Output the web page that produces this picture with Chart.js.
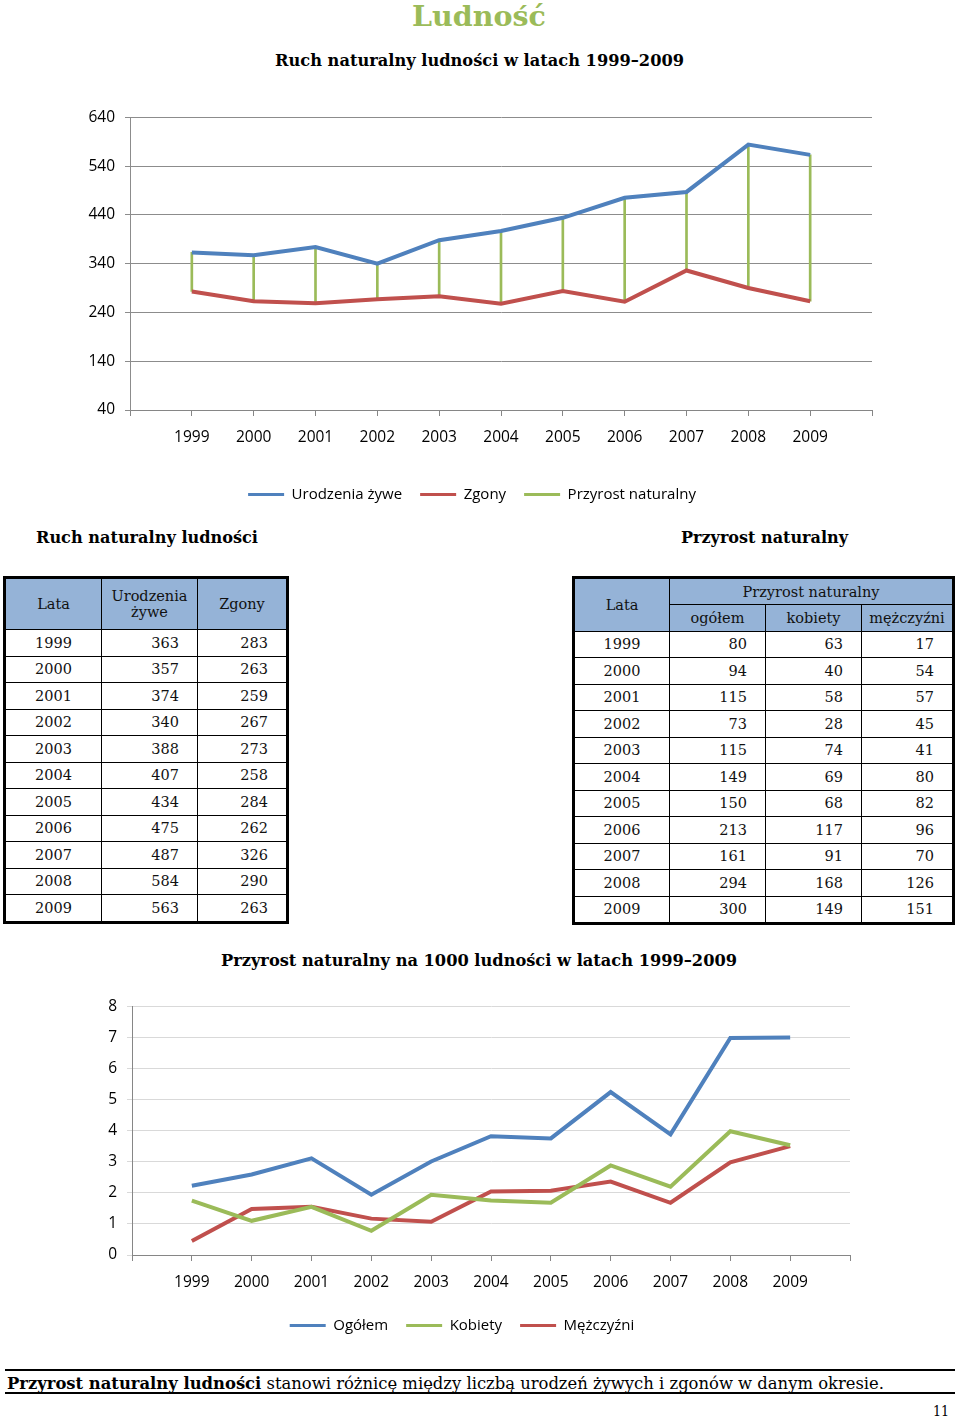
<!DOCTYPE html>
<html>
<head>
<meta charset="utf-8">
<script src="https://cdn.jsdelivr.net/npm/chart.js@4.4.0/dist/chart.umd.min.js"></script>
<style>
body{margin:0;width:960px;height:1418px;position:relative;background:#fff;font-family:"DejaVu Serif",serif;color:#000;overflow:hidden}
.t{position:absolute;white-space:nowrap;font-weight:bold;transform-origin:left top;line-height:1}
.box{position:absolute}
table{border-collapse:collapse;position:absolute;font-family:"DejaVu Serif",serif;font-size:14.5px;color:#111}
td,th{border:1px solid #000;padding:0;height:25.5px;font-weight:normal}
th{background:#95b3d7;text-align:center}
td.y{text-align:center}
td.n{text-align:right;padding-right:18px}
.rule{position:absolute;left:5px;width:950px;height:2px;background:#000}
</style>
</head>
<body>

<div class="t" id="tytul" style="color:#9bbb59;font-size:27px;top:3px;left:412px">Ludność</div>
<div class="t" id="tyt1" style="font-size:16px;top:53px;left:275px">Ruch naturalny ludności w latach 1999–2009</div>

<div class="box" style="left:60px;top:98px;width:824px;height:414px"><canvas id="wykres1"></canvas></div>

<div class="t" id="tyt2" style="font-size:16px;top:530px;left:36px">Ruch naturalny ludności</div>
<div class="t" id="tyt3" style="font-size:16px;top:530px;left:681px">Przyrost naturalny</div>

<table id="tab1" style="left:3px;top:576px;width:286px;border:3px solid #000"></table>
<table id="tab2" style="left:572px;top:576px;width:383px;border:3px solid #000"></table>

<div class="t" id="tyt4" style="font-size:16px;top:953px;left:221px">Przyrost naturalny na 1000 ludności w latach 1999–2009</div>

<div class="box" style="left:62px;top:987px;width:800px;height:356px"><canvas id="wykres2"></canvas></div>

<div class="rule" style="top:1369px"></div>
<div class="t" id="stopka" style="font-size:17px;top:1375px;left:7px;font-weight:normal;font-family:'DejaVu Serif Condensed','DejaVu Serif',serif;font-stretch:condensed"><b>Przyrost naturalny ludności</b> stanowi różnicę między liczbą urodzeń żywych i zgonów w danym okresie.</div>
<div class="rule" style="top:1392px"></div>
<div class="t" style="font-size:14px;top:1404px;left:933px;font-weight:normal;font-family:'DejaVu Serif Condensed','DejaVu Serif',serif">11</div>

<script>
// dane
var lata = [1999, 2000, 2001, 2002, 2003, 2004, 2005, 2006, 2007, 2008, 2009];
var urodzenia = [363, 357, 374, 340, 388, 407, 434, 475, 487, 584, 563];
var zgony = [283, 263, 259, 267, 273, 258, 284, 262, 326, 290, 263];
var przyrostOgolem = [80, 94, 115, 73, 115, 149, 150, 213, 161, 294, 300];
var przyrostKobiety = [63, 40, 58, 28, 74, 69, 68, 117, 91, 168, 149];
var przyrostMezczyzni = [17, 54, 57, 45, 41, 80, 82, 96, 70, 126, 151];
// przyrost na 1000 ludnosci
var wskOgolem = [2.23, 2.59, 3.11, 1.94, 3.01, 3.82, 3.75, 5.24, 3.88, 6.98, 7.0];
var wskKobiety = [1.75, 1.1, 1.55, 0.78, 1.94, 1.75, 1.68, 2.88, 2.2, 3.98, 3.53];
var wskMezczyzni = [0.45, 1.48, 1.55, 1.17, 1.07, 2.04, 2.07, 2.36, 1.68, 2.98, 3.5];

var niebieski = "#4f81bd", czerwony = "#c0504d", zielony = "#9bbb59";

// dopasowanie szerokosci tekstu
function dopasuj(id, szer) {
  var el = document.getElementById(id);
  var w = el.getBoundingClientRect().width;
  el.style.transform = "scaleX(" + (szer / w) + ")";
}
dopasuj("tytul", 134);
dopasuj("tyt1", 409);
dopasuj("tyt2", 222);
dopasuj("tyt3", 167);
dopasuj("tyt4", 516);
dopasuj("stopka", 877);

// tabele
var t1 = '<tr><th style="width:95px;height:50px">Lata</th><th style="width:95px">Urodzenia<br>żywe</th><th>Zgony</th></tr>';
for (var i = 0; i < lata.length; i++) {
  t1 += '<tr><td class="y">' + lata[i] + '</td><td class="n">' + urodzenia[i] + '</td><td class="n">' + zgony[i] + '</td></tr>';
}
document.getElementById("tab1").innerHTML = t1;

var t2 = '<tr><th rowspan="2" style="width:94px">Lata</th><th colspan="3" style="height:25px">Przyrost naturalny</th></tr>' +
  '<tr><th style="width:95px;height:24px">ogółem</th><th style="width:95px">kobiety</th><th>mężczyźni</th></tr>';
for (var i = 0; i < lata.length; i++) {
  t2 += '<tr><td class="y">' + lata[i] + '</td><td class="n">' + przyrostOgolem[i] + '</td><td class="n">' + przyrostKobiety[i] + '</td><td class="n">' + przyrostMezczyzni[i] + '</td></tr>';
}
document.getElementById("tab2").innerHTML = t2;

// wykresy
Chart.defaults.font.family = "'Open Sans', sans-serif";
Chart.defaults.color = "#000";

function legendaLinie(chart) {
  var items = Chart.defaults.plugins.legend.labels.generateLabels(chart);
  items.forEach(function(it) { it.fillStyle = it.strokeStyle; it.lineWidth = 0; });
  return items;
}

function punkty(ys) {
  return lata.map(function(r, i) { return {x: r, y: ys[i]}; });
}

function osLat(wys) {
  return {
    type: "linear", min: 1998, max: 2010, offset: false,
    grid: {drawOnChartArea: false, drawTicks: true, offset: false, tickLength: 6, color: "#868686"},
    border: {color: "#868686"},
    ticks: {stepSize: 1, padding: 12, font: {size: 15.5},
      callback: function(v) { return (v == 1998 || v == 2010) ? "" : v; }},
    afterFit: function(s) { s.height = wys; }
  };
}

var wykres1 = new Chart("wykres1", {
  type: "line",
  data: {
    datasets: [{
      label: "Urodzenia żywe",
      data: punkty(urodzenia),
      borderColor: niebieski, backgroundColor: niebieski,
      borderWidth: 4, pointRadius: 0, tension: 0
    }, {
      label: "Zgony",
      data: punkty(zgony),
      borderColor: czerwony, backgroundColor: czerwony,
      borderWidth: 4, pointRadius: 0, tension: 0
    }, {
      type: "bar",
      label: "Przyrost naturalny",
      data: lata.map(function(r, i) { return {x: r, y: [zgony[i], urodzenia[i]]}; }),
      backgroundColor: zielony, borderColor: zielony,
      barThickness: 2, borderWidth: 0
    }]
  },
  options: {
    animation: false, responsive: true, maintainAspectRatio: false,
    layout: {padding: {top: 17, left: 0, right: 0, bottom: 0}},
    scales: {
      x: osLat(59),
      y: {
        min: 40, max: 640,
        grid: {color: "#8c8c8c", tickLength: 5},
        border: {color: "#8c8c8c"},
        ticks: {stepSize: 100, padding: 10, font: {size: 15.5}},
        afterFit: function(s) { s.width = 70; }
      }
    },
    plugins: {
      legend: {position: "bottom",
        labels: {boxWidth: 36, boxHeight: 3, padding: 18, font: {size: 15}, generateLabels: legendaLinie}},
      tooltip: {enabled: false}
    }
  }
});

var wykres2 = new Chart("wykres2", {
  type: "line",
  data: {
    datasets: [{
      label: "Ogółem",
      data: punkty(wskOgolem),
      borderColor: niebieski, backgroundColor: niebieski,
      borderWidth: 4, pointRadius: 0, tension: 0
    }, {
      label: "Kobiety",
      data: punkty(wskKobiety),
      borderColor: zielony, backgroundColor: zielony,
      borderWidth: 4, pointRadius: 0, tension: 0
    }, {
      label: "Mężczyźni",
      data: punkty(wskMezczyzni),
      borderColor: czerwony, backgroundColor: czerwony,
      borderWidth: 4, pointRadius: 0, tension: 0
    }]
  },
  options: {
    animation: false, responsive: true, maintainAspectRatio: false,
    layout: {padding: {top: 17, left: 0, right: 0, bottom: 0}},
    scales: {
      x: osLat(45),
      y: {
        min: 0, max: 8,
        grid: {color: "#d9d9d9", tickLength: 5},
        border: {color: "#868686"},
        ticks: {stepSize: 1, padding: 10, font: {size: 15.5}},
        afterFit: function(s) { s.width = 70; }
      }
    },
    plugins: {
      legend: {position: "bottom",
        labels: {boxWidth: 36, boxHeight: 3, padding: 18, font: {size: 15}, generateLabels: legendaLinie}},
      tooltip: {enabled: false}
    }
  }
});
</script>
</body>
</html>
